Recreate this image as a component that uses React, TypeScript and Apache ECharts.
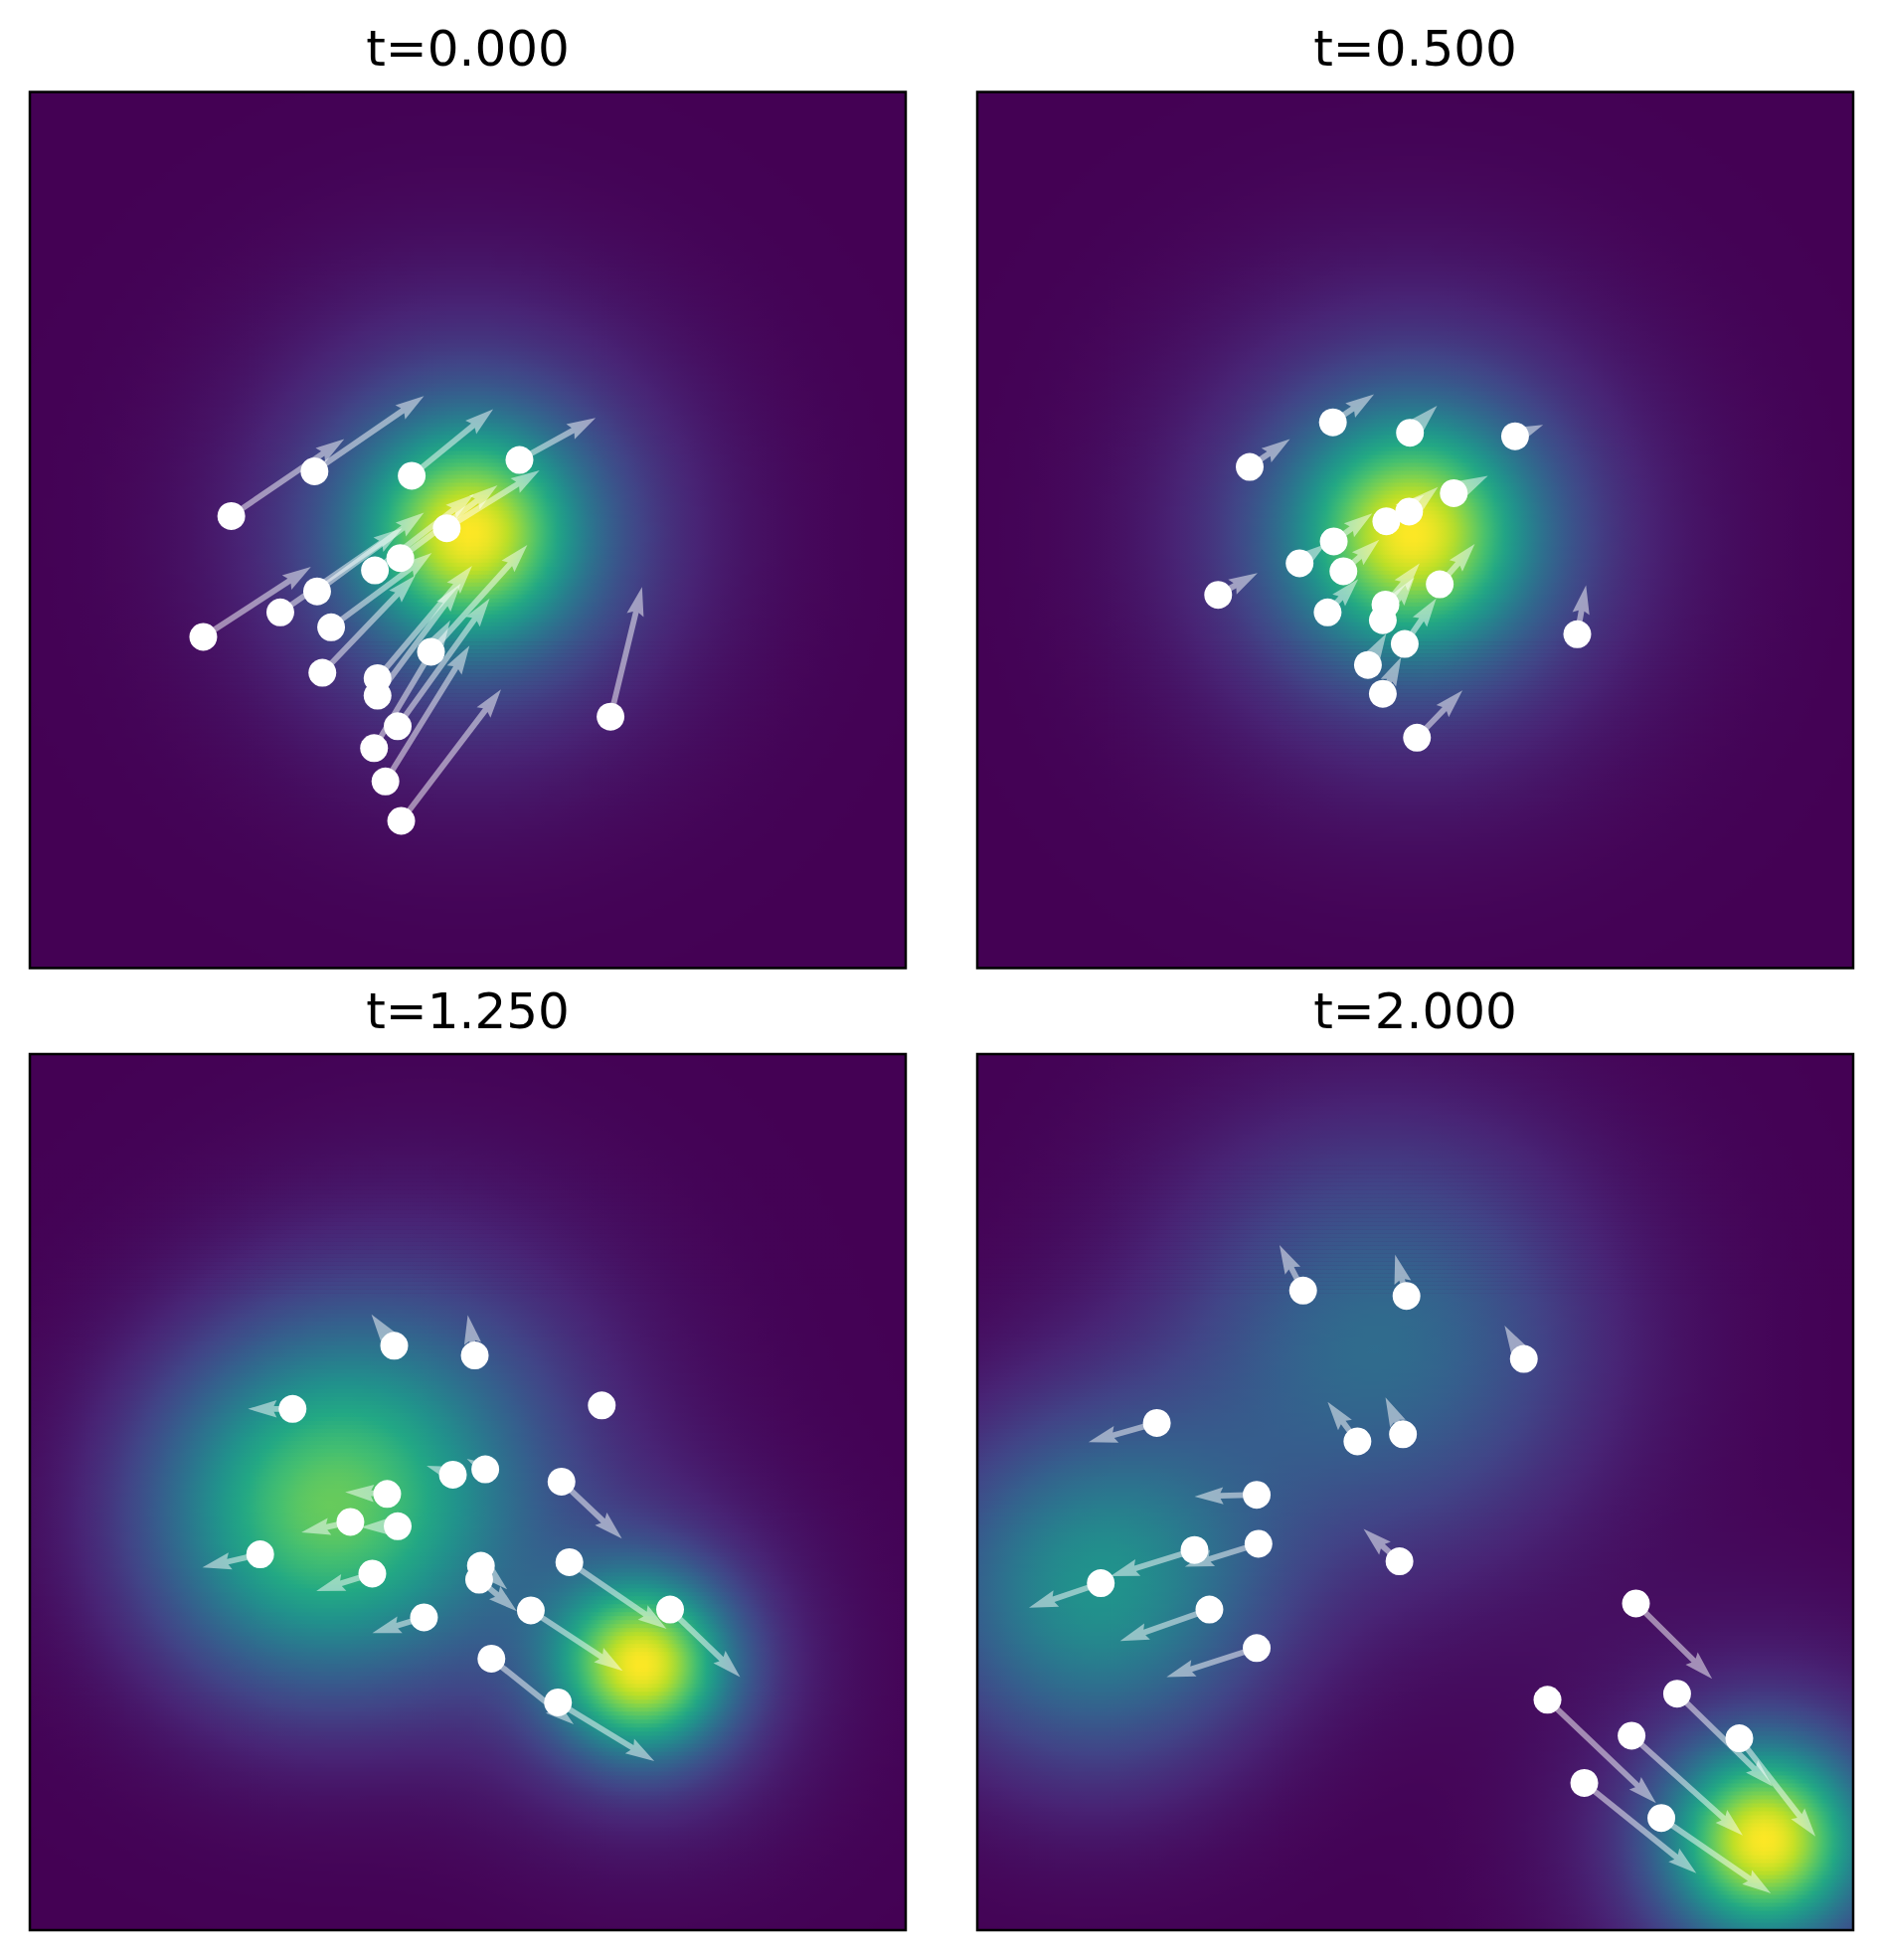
import React, { useEffect, useRef } from 'react';
import * as echarts from 'echarts';

// ---------- data (axis domain 0..10 in both directions) ----------
const titles = ['t=0.000', 't=0.500', 't=1.250', 't=2.000'];

// t = 0.000
const x_t0 = [2.30, 3.25, 4.36, 5.59, 4.76, 4.23, 3.94, 3.28, 2.86, 3.44, 1.98, 3.34, 4.58, 3.97, 3.97, 4.20, 3.93, 4.06, 4.24, 6.63];
const y_t0 = [5.16, 5.67, 5.62, 5.80, 5.02, 4.68, 4.54, 4.30, 4.06, 3.89, 3.78, 3.37, 3.61, 3.31, 3.11, 2.76, 2.51, 2.13, 1.68, 2.87];
const u_t0 = [1.29, 1.25, 0.93, 0.87, 1.06, 1.11, 1.13, 1.22, 1.39, 1.15, 1.23, 1.06, 1.10, 1.08, 0.95, 1.05, 0.87, 0.96, 1.14, 0.36];
const v_t0 = [0.88, 0.86, 0.76, 0.48, 0.66, 0.83, 0.87, 0.90, 0.96, 0.85, 0.80, 1.11, 1.22, 1.28, 1.28, 1.46, 1.46, 1.55, 1.50, 1.48];

// t = 0.500
const x_t1 = [3.11, 4.06, 4.94, 6.14, 5.44, 4.93, 4.67, 4.07, 3.68, 4.18, 2.75, 4.00, 5.28, 4.66, 4.63, 4.88, 4.46, 4.63, 5.02, 6.85];
const y_t1 = [5.72, 6.23, 6.11, 6.07, 5.42, 5.21, 5.10, 4.87, 4.62, 4.53, 4.26, 4.06, 4.38, 4.15, 3.97, 3.70, 3.46, 3.13, 2.63, 3.81];
const u_t1 = [0.46, 0.47, 0.31, 0.32, 0.39, 0.33, 0.43, 0.44, 0.30, 0.41, 0.45, 0.35, 0.40, 0.39, 0.36, 0.36, 0.21, 0.21, 0.52, 0.10];
const v_t1 = [0.32, 0.32, 0.31, 0.13, 0.20, 0.28, 0.30, 0.32, 0.22, 0.36, 0.25, 0.38, 0.46, 0.47, 0.49, 0.52, 0.36, 0.42, 0.54, 0.56];

// t = 1.250
const x_t2 = [4.16, 5.08, 3.00, 6.53, 4.83, 5.20, 6.07, 4.08, 3.66, 4.20, 2.63, 3.91, 5.15, 5.13, 6.16, 4.50, 5.72, 7.31, 5.27, 6.03];
const y_t2 = [6.67, 6.56, 5.95, 5.99, 5.20, 5.26, 5.12, 4.98, 4.66, 4.61, 4.29, 4.07, 4.16, 4.00, 4.20, 3.57, 3.65, 3.66, 3.10, 2.60];
const u_t2 = [-0.26, -0.08, -0.51, 0.02, -0.30, -0.21, 0.69, -0.48, -0.56, -0.42, -0.66, -0.64, 0.30, 0.43, 1.11, -0.59, 1.05, 0.80, 0.94, 1.10];
const v_t2 = [0.36, 0.46, 0.00, 0.01, 0.10, 0.12, -0.65, 0.02, -0.12, -0.01, -0.15, -0.20, -0.27, -0.36, -0.76, -0.18, -0.69, -0.77, -0.75, -0.67];

// t = 2.000
const x_t3 = [3.72, 4.90, 6.24, 2.05, 4.34, 4.86, 3.19, 2.48, 3.21, 4.82, 1.41, 2.65, 3.19, 7.52, 6.51, 7.99, 7.47, 8.70, 6.93, 7.81];
const y_t3 = [7.30, 7.24, 6.52, 5.79, 5.58, 5.66, 4.97, 4.34, 4.41, 4.21, 3.96, 3.66, 3.22, 3.73, 2.63, 2.70, 2.22, 2.19, 1.68, 1.28];
const u_t3 = [-0.27, -0.13, -0.22, -0.78, -0.34, -0.20, -0.71, -0.96, -0.84, -0.41, -0.82, -1.02, -1.03, 0.87, 1.24, 1.09, 1.27, 0.87, 1.28, 1.25];
const v_t3 = [0.52, 0.47, 0.38, -0.22, 0.45, 0.42, -0.02, -0.30, -0.26, 0.37, -0.28, -0.36, -0.33, -0.86, -1.18, -1.06, -1.14, -1.12, -1.03, -0.86];

// density components per panel: [cx, cy, sigmaX, sigmaY, amplitude]
const dens_t0 = [[5.02, 4.97, 0.80, 0.80, 0.65], [5.02, 4.97, 1.62, 1.62, 0.35]];
const dens_t1 = [[4.96, 4.96, 0.85, 0.85, 0.65], [4.96, 4.96, 1.67, 1.67, 0.35]];
const dens_t2 = [[6.99, 3.02, 0.66, 0.66, 1.00], [6.99, 3.02, 1.25, 1.25, 0.30], [3.29, 4.72, 1.38, 1.38, 0.86], [4.60, 5.90, 1.62, 1.62, 0.26]];
const dens_t3 = [[8.99, 1.03, 0.72, 0.72, 1.00], [8.99, 1.03, 1.40, 1.40, 0.30], [1.35, 3.88, 1.38, 1.38, 0.64], [4.62, 6.71, 1.72, 1.72, 0.45]];

// ---------- styling / layout ----------
const VIR = ['#440154', '#482475', '#414487', '#355f8d', '#2a788e', '#21918c', '#22a884', '#44bf70', '#7ad151', '#bddf26', '#fde725'];
const VIR_RGB = VIR.map((h) => [parseInt(h.slice(1, 3), 16), parseInt(h.slice(3, 5), 16), parseInt(h.slice(5, 7), 16)]);
function viridis(t: number): string {
  const c = Math.max(0, Math.min(1, t)) * 10;
  const i = Math.min(9, Math.floor(c));
  const f = c - i;
  const a = VIR_RGB[i];
  const b = VIR_RGB[i + 1];
  const r = Math.round(a[0] + (b[0] - a[0]) * f);
  const g = Math.round(a[1] + (b[1] - a[1]) * f);
  const bl = Math.round(a[2] + (b[2] - a[2]) * f);
  return `rgb(${r},${g},${bl})`;
}

const NR = 220; // rows per panel
const NC = 88; // gradient stops per row

function field(comps: number[][], x: number, y: number) {
  let s = 0;
  for (const [cx, cy, sx, sy, a] of comps) {
    const dx = (x - cx) / sx;
    const dy = (y - cy) / sy;
    s += a * Math.exp(-0.5 * (dx * dx + dy * dy));
  }
  return s;
}

function buildRows(comps: number[][]) {
  const vals: number[][] = [];
  let mx = 0;
  for (const c of comps) mx = Math.max(mx, field(comps, c[0], c[1]));
  for (let r = 0; r < NR; r++) {
    const yc = ((r + 0.5) * 10) / NR;
    const row: number[] = [];
    for (let c = 0; c <= NC; c++) {
      const v = field(comps, (c * 10) / NC, yc);
      row.push(v);
      if (v > mx) mx = v;
    }
    vals.push(row);
  }
  return vals.map((row, r) => ({
    y0: (r * 10) / NR,
    y1: ((r + 1) * 10) / NR,
    stops: row.map((v, c) => ({ offset: c / NC, color: viridis(v / mx) })),
  }));
}

const panelsData = [
  { x: x_t0, y: y_t0, u: u_t0, v: v_t0, dens: dens_t0 },
  { x: x_t1, y: y_t1, u: u_t1, v: v_t1, dens: dens_t1 },
  { x: x_t2, y: y_t2, u: u_t2, v: v_t2, dens: dens_t2 },
  { x: x_t3, y: y_t3, u: u_t3, v: v_t3, dens: dens_t3 },
];

const SIZE = 881;
const LEFTS = [30, 983];
const TOPS = [92.5, 1060];
const SHAFT = 5.8;
const ARROW_FILL = 'rgba(255,255,255,0.5)';

function arrowItem(params: any, api: any) {
  const x = api.value(0);
  const y = api.value(1);
  const u = api.value(2);
  const v = api.value(3);
  const p0 = api.coord([x, y]);
  const p1 = api.coord([x + u, y + v]);
  const dx = p1[0] - p0[0];
  const dy = p1[1] - p0[1];
  const len = Math.hypot(dx, dy);
  if (len < 0.5) return null;
  const ux = dx / len;
  const uy = dy / len;
  const nx = -uy;
  const ny = ux;
  const L = len / SHAFT;
  let xs: number[];
  let ys: number[];
  if (L >= 5) {
    xs = [0, L - 4.5, L - 5, L, L - 5, L - 4.5, 0];
    ys = [0.5, 0.5, 1.5, 0, -1.5, -0.5, -0.5];
  } else {
    const s = L / 5;
    xs = [0, 0.5, 0, 5, 0, 0.5, 0].map((a) => a * s);
    ys = [0.5, 0.5, 1.5, 0, -1.5, -0.5, -0.5].map((a) => a * s);
  }
  const pts = xs.map((a, i) => [p0[0] + (a * ux + ys[i] * nx) * SHAFT, p0[1] + (a * uy + ys[i] * ny) * SHAFT]);
  return { type: 'polygon', shape: { points: pts }, style: { fill: ARROW_FILL } };
}

export default function App() {
  const ref = useRef<HTMLDivElement>(null);
  useEffect(() => {
    if (!ref.current) return;
    const chart = echarts.init(ref.current, null, { renderer: 'svg' });
    const grids: any[] = [];
    const xAxes: any[] = [];
    const yAxes: any[] = [];
    const series: any[] = [];
    const graphics: any[] = [];
    panelsData.forEach((p, k) => {
      const left = LEFTS[k % 2];
      const top = TOPS[Math.floor(k / 2)];
      grids.push({ left, top, width: SIZE, height: SIZE, show: true, backgroundColor: '#440154', borderWidth: 0 });
      xAxes.push({ type: 'value', gridIndex: k, min: 0, max: 10, show: false });
      yAxes.push({ type: 'value', gridIndex: k, min: 0, max: 10, show: false });
      const rows = buildRows(p.dens);
      series.push({
        type: 'custom',
        xAxisIndex: k,
        yAxisIndex: k,
        silent: true,
        z: 1,
        data: rows.map((r) => [5, r.y0, r.y1]),
        encode: { x: 0, y: 1 },
        renderItem: (params: any, api: any) => {
          const row = rows[params.dataIndex];
          const a = api.coord([0, row.y1]);
          const b = api.coord([10, row.y0]);
          return {
            type: 'rect',
            shape: { x: a[0], y: a[1], width: b[0] - a[0], height: b[1] - a[1] + 0.6 },
            style: { fill: { type: 'linear', x: 0, y: 0, x2: 1, y2: 0, colorStops: row.stops } },
          };
        },
      });
      series.push({
        type: 'custom',
        xAxisIndex: k,
        yAxisIndex: k,
        silent: true,
        z: 2,
        data: p.x.map((xi, i) => [xi, p.y[i], p.u[i], p.v[i]]),
        encode: { x: 0, y: 1 },
        renderItem: arrowItem,
      });
      series.push({
        type: 'scatter',
        xAxisIndex: k,
        yAxisIndex: k,
        z: 3,
        symbol: 'circle',
        symbolSize: 28,
        itemStyle: { color: '#ffffff', opacity: 1 },
        data: p.x.map((xi, i) => [xi, p.y[i]]),
      });
      graphics.push({
        type: 'rect',
        z: 100,
        silent: true,
        shape: { x: left, y: top, width: SIZE, height: SIZE },
        style: { fill: 'none', stroke: '#000', lineWidth: 2.5 },
      });
      graphics.push({
        type: 'text',
        z: 100,
        x: left + SIZE / 2,
        y: top - 43.3,
        style: {
          text: titles[k],
          fontSize: 50,
          fontFamily: 'DejaVu Sans',
          fill: '#000',
          align: 'center',
          verticalAlign: 'middle',
          textAlign: 'center',
          textVerticalAlign: 'middle',
        },
      });
    });
    chart.setOption({
      animation: false,
      backgroundColor: '#ffffff',
      grid: grids,
      xAxis: xAxes,
      yAxis: yAxes,
      series,
      graphic: graphics,
    });
    return () => chart.dispose();
  }, []);
  return <div ref={ref} style={{ position: 'absolute', left: 0, top: 0, width: 1892, height: 1971 }} />;
}
